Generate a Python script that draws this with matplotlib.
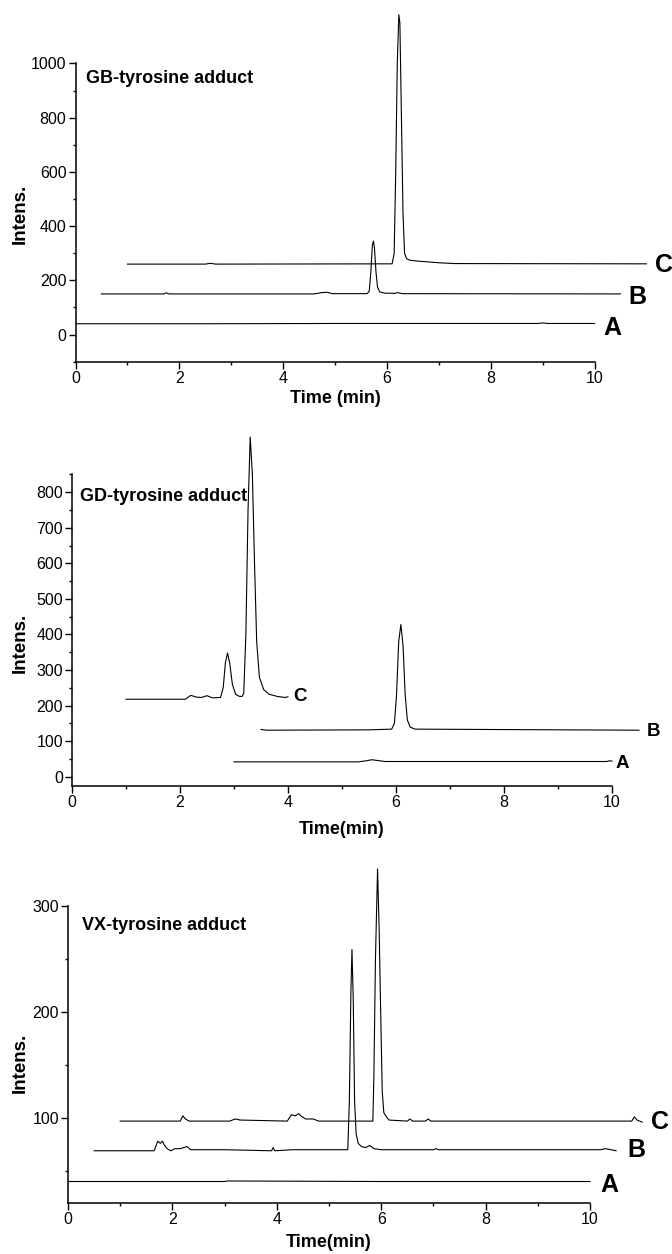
import matplotlib
matplotlib.use("Agg")
import matplotlib.pyplot as plt
from matplotlib.ticker import MultipleLocator

plt.rcParams['font.family'] = ['Liberation Sans', 'DejaVu Sans']

# ---- GB-tyrosine adduct (top panel) ----
gb_a_t = [0.0, 2.5, 5.0, 8.9, 9.0, 9.1, 10.0]
gb_a_i = [40, 40, 41, 41, 43, 41, 41]
gb_b_t = [0.5, 1.7, 1.75, 1.8, 4.6, 4.75, 4.85, 4.95, 5.62, 5.66, 5.69, 5.72, 5.74,
          5.76, 5.79, 5.82, 5.86, 5.95, 6.15, 6.2, 6.3, 10.5]
gb_b_i = [150, 150, 154, 150, 150, 155, 156, 151, 151, 160, 230, 330, 345,
          320, 230, 175, 158, 153, 152, 155, 151, 150]
gb_c_t = [1.0, 2.5, 2.6, 2.7, 6.10, 6.14, 6.17, 6.20, 6.23, 6.25, 6.28, 6.31, 6.34,
          6.38, 6.45, 6.6, 6.8, 7.0, 7.3, 11.0]
gb_c_i = [260, 260, 263, 260, 261, 300, 600, 1000, 1180, 1150, 800, 450, 300,
          280, 274, 271, 268, 265, 262, 261]

# ---- GD-tyrosine adduct (middle panel) ----
gd_a_t = [3.0, 5.3, 5.45, 5.55, 5.65, 5.8, 9.9, 9.95, 10.0]
gd_a_i = [42, 42, 45, 48, 46, 43, 43, 45, 44]
gd_b_t = [3.5, 3.6, 5.5, 5.92, 5.97, 6.01, 6.05, 6.09, 6.13, 6.17, 6.21, 6.26, 6.35, 10.5]
gd_b_i = [133, 131, 132, 134, 150, 230, 380, 428, 370, 230, 160, 140, 134, 131]
gd_c_t = [1.0, 2.1, 2.2, 2.3, 2.4, 2.5, 2.6, 2.75, 2.8, 2.84, 2.88, 2.92, 2.97, 3.03,
          3.1, 3.15, 3.18, 3.22, 3.26, 3.30, 3.34, 3.38, 3.42, 3.47, 3.55, 3.65,
          3.8, 3.95, 4.0]
gd_c_i = [218, 218, 229, 224, 223, 228, 222, 223, 250, 320, 348, 320, 260, 232,
          226, 226, 235, 400, 750, 955, 850, 600, 380, 280, 245, 232,
          226, 223, 225]

# ---- VX-tyrosine adduct (bottom panel) ----
vx_a_t = [0.0, 3.0, 3.05, 6.0, 10.0]
vx_a_i = [40, 40, 40.5, 40, 40]
vx_b_t = [0.5, 1.65, 1.72, 1.77, 1.81, 1.85, 1.9, 1.97, 2.05, 2.15, 2.28, 2.35, 2.45,
          3.0, 3.9, 3.93, 3.96, 4.3, 5.36, 5.39, 5.42, 5.44, 5.465, 5.49, 5.52,
          5.56, 5.62, 5.7, 5.78, 5.86, 6.0, 7.0, 7.05, 7.1, 10.2, 10.3, 10.4, 10.5]
vx_b_i = [69, 69, 78, 76, 78, 74, 71, 69, 71, 71, 73, 70, 70,
          70, 69, 72, 69, 70, 70, 116, 220, 259, 210, 116, 85,
          76, 73, 72, 74, 71, 70, 70, 71, 70, 70, 71, 70, 69]
vx_c_t = [1.0, 2.15, 2.2, 2.25, 2.32, 3.1, 3.2, 3.3, 4.2, 4.28, 4.35, 4.42, 4.46,
          4.55, 4.7, 4.8, 5.84, 5.86, 5.89, 5.93, 5.96, 5.99, 6.02, 6.05, 6.1, 6.15,
          6.5, 6.55, 6.6, 6.85, 6.9, 6.95, 10.0, 10.8, 10.85, 10.9, 11.0]
vx_c_i = [97, 97, 102, 99, 97, 97, 99, 98, 97, 103, 102, 104, 102,
          99, 99, 97, 97, 140, 250, 335, 280, 200, 125, 105, 101, 98,
          97, 99, 97, 97, 99, 97, 97, 97, 101, 98, 96]

W, H = 672, 1254
fig = plt.figure(figsize=(W / 100, H / 100), dpi=100)


def make_axes(x0, x10, ytop, ybot):
    # axes box given in figure pixels (top-left origin)
    return fig.add_axes([x0 / W, 1 - ybot / H, (x10 - x0) / W, (ybot - ytop) / H])


def style(ax, ylim, ymaj, ymin, xlabel, xlab_off, ylab_frac, x0, x10):
    ax.set_xlim(0, 10)
    ax.set_ylim(*ylim)
    ax.patch.set_alpha(0)
    for s in ('top', 'right'):
        ax.spines[s].set_visible(False)
    for s in ('left', 'bottom'):
        ax.spines[s].set_linewidth(1.1)
    ax.xaxis.set_major_locator(MultipleLocator(2))
    ax.xaxis.set_minor_locator(MultipleLocator(1))
    ax.yaxis.set_major_locator(MultipleLocator(ymaj))
    ax.yaxis.set_minor_locator(MultipleLocator(ymin))
    ax.tick_params(axis='both', which='major', length=5, width=1, labelsize=11.5)
    ax.tick_params(axis='y', which='major', pad=1.5)
    ax.tick_params(axis='x', which='major', pad=2)
    ax.tick_params(axis='both', which='minor', length=2.5, width=1)
    ax.annotate(xlabel, xy=(0.5, 0), xycoords='axes fraction',
                xytext=(0, -xlab_off * 0.72), textcoords='offset points',
                ha='center', va='center', fontsize=13, fontweight='bold')
    ax.text((20 - x0) / (x10 - x0), ylab_frac, 'Intens.', transform=ax.transAxes,
            rotation=90, ha='center', va='center', fontsize=13.5, fontweight='bold')


def trace(ax, t, i, label, size, gap, dy):
    ax.plot(t, i, color='black', lw=0.8, clip_on=False)
    ax.annotate(label, xy=(t[-1], i[-1]), xytext=(gap * 0.72, dy * 0.72),
                textcoords='offset points', ha='left', va='center',
                fontsize=size, fontweight='bold', annotation_clip=False)


# top panel
ax1 = make_axes(75.5, 594.5, 63.5, 361.7)
style(ax1, (-100, 1000), 200, 100, 'Time (min)', 36.6, 0.495, 75.5, 594.5)
trace(ax1, gb_a_t, gb_a_i, 'A', 18, 9, -5)
trace(ax1, gb_b_t, gb_b_i, 'B', 18, 8, -3)
trace(ax1, gb_c_t, gb_c_i, 'C', 18, 9, -1)
ax1.text(0.2, 944, 'GB-tyrosine adduct', ha='left', va='center',
         fontsize=13, fontweight='bold')

# middle panel
ax2 = make_axes(72, 612, 474.4, 785.7)
style(ax2, (-25, 850), 100, 50, 'Time(min)', 44, 0.458, 72, 612)
trace(ax2, gd_a_t, gd_a_i, 'A', 13.5, 4, -2)
trace(ax2, gd_b_t, gd_b_i, 'B', 13.5, 7.5, -1)
trace(ax2, gd_c_t, gd_c_i, 'C', 13.5, 5.5, 0)
ax2.text(0.14, 788, 'GD-tyrosine adduct', ha='left', va='center',
         fontsize=13, fontweight='bold')

# bottom panel
ax3 = make_axes(68, 590, 906, 1202.7)
style(ax3, (20, 300), 100, 50, 'Time(min)', 40, 0.47, 68, 590)
trace(ax3, vx_a_t, vx_a_i, 'A', 18, 10, -3)
trace(ax3, vx_b_t, vx_b_i, 'B', 18, 11, 1)
trace(ax3, vx_c_t, vx_c_i, 'C', 18, 9, 0)
ax3.text(0.26, 282, 'VX-tyrosine adduct', ha='left', va='center',
         fontsize=13, fontweight='bold')

fig.savefig('out.png', dpi=100)
